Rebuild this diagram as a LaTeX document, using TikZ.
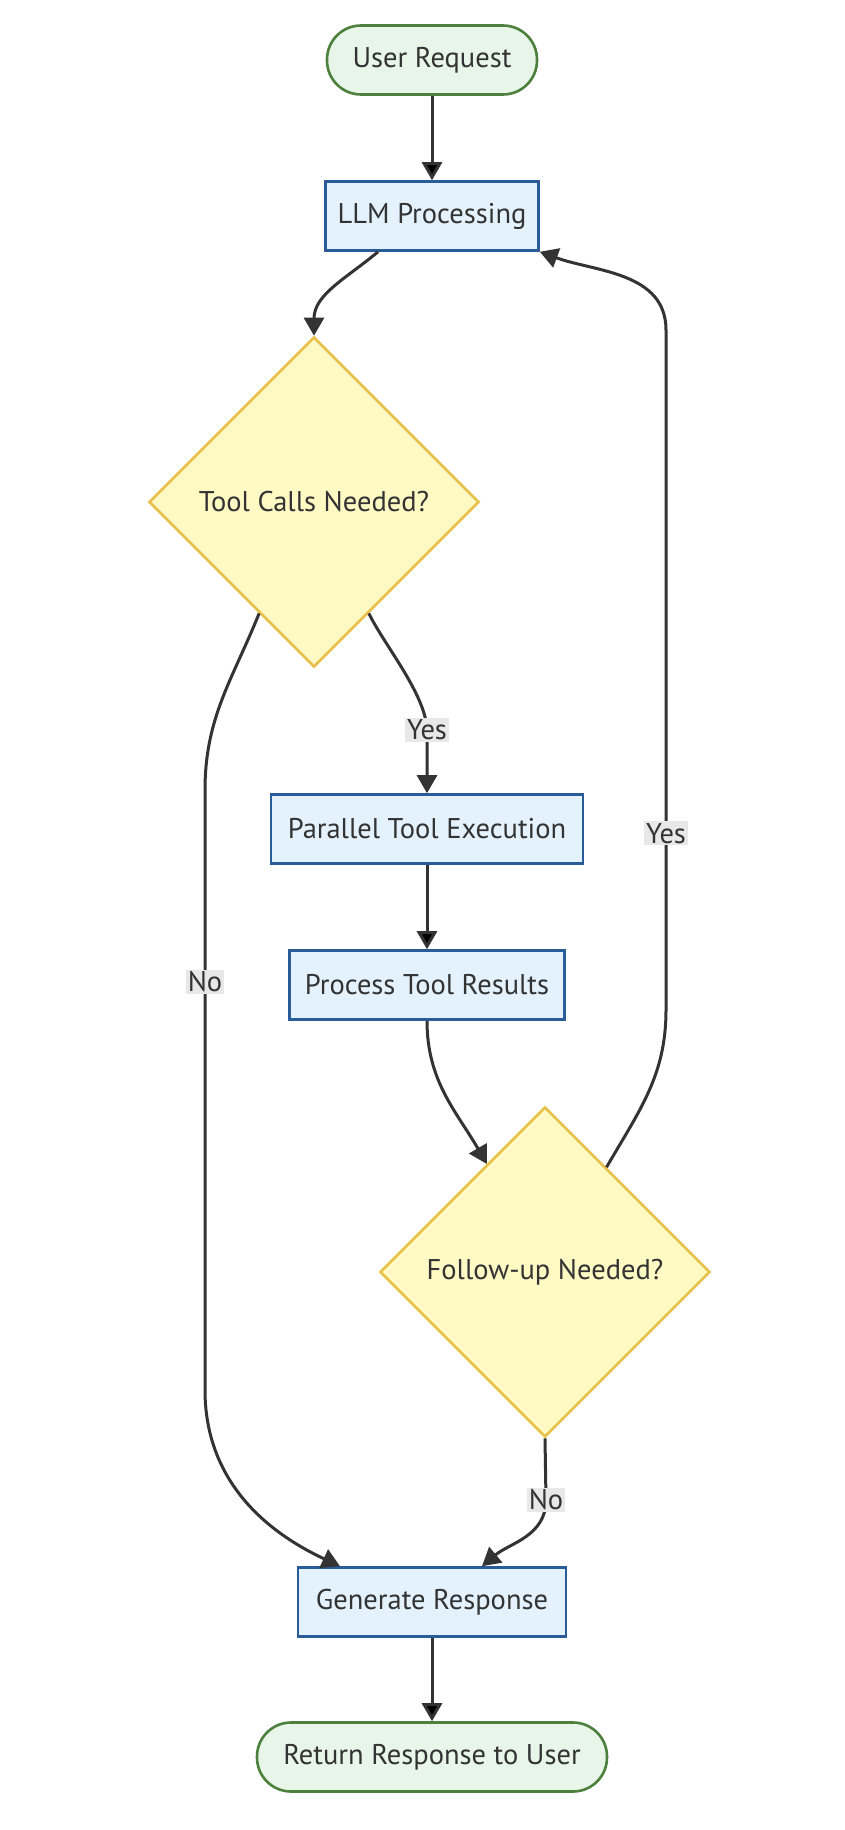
\documentclass[tikz,border=0pt]{standalone}
\usepackage{fontspec}
\setmainfont{PT Sans}
\usepackage{tikz}
\usetikzlibrary{positioning,shapes.geometric,arrows.meta,calc}

\definecolor{vihrea}{RGB}{76,128,60}
\definecolor{vihreapohja}{HTML}{E8F5E9}
\definecolor{sininen}{RGB}{42,92,154}
\definecolor{sininenpohja}{HTML}{E3F2FD}
\definecolor{keltainen}{HTML}{E8C04A}
\definecolor{keltainenpohja}{HTML}{FFF9C4}
\definecolor{viiva}{HTML}{333333}
\definecolor{selitepohja}{HTML}{E8E8E8}

\begin{document}
\begin{tikzpicture} [x=1pt, y=-1pt, node distance=156pt,
                    every node/.style={font=\fontsize{28.5}{32}\selectfont, text=viiva},
                    paate/.style={rectangle, rounded corners=34pt, draw=vihrea, fill=vihreapohja, line width=2.6pt, minimum height=69pt},
                    vaihe/.style={rectangle, draw=sininen, fill=sininenpohja, line width=2.6pt, minimum height=69pt},
                    ehto/.style={diamond, aspect=1, draw=keltainen, fill=keltainenpohja, line width=2.6pt, minimum width=330pt, minimum height=330pt, inner sep=0pt},
                    selite/.style={fill=selitepohja, inner sep=2pt, anchor=center},
                    nuoli/.style={draw=viiva, line width=3pt, -{Triangle[length=18pt,width=20pt]}}]

\useasboundingbox (0,0) rectangle (844,1830);

\node[paate, minimum width=210pt] (1) at (432,60) {User Request};
\node[vaihe, minimum width=213pt] (2) [below of=1] {LLM Processing};
\node[ehto] (3) [below of=2, node distance=286pt, xshift=-118pt] {Tool Calls Needed?};
\node[vaihe, minimum width=312pt] (4) [below of=3, node distance=327pt, xshift=113pt] {Parallel Tool Execution};
\node[vaihe, minimum width=275pt] (5) [below of=4] {Process Tool Results};
\node[ehto] (6) [below of=5, node distance=287pt, xshift=118pt] {Follow-up Needed?};
\node[vaihe, minimum width=268pt] (7) [below of=6, node distance=330pt, xshift=-113pt] {Generate Response};
\node[paate, minimum width=350pt] (8) [below of=7, node distance=155pt] {Return Response to User};

% bends of the long connectors
\coordinate (kylla1) at (427,730);
\coordinate (ei1) at (205,790);
\coordinate (ei2) at (205,1390);
\coordinate (kylla2) at (666,1010);
\coordinate (kylla3) at (666,330);
\coordinate (ei3) at (546,1500);

 \path[nuoli]
    (1) edge (2)
    (4) edge (5)
    (7) edge (8);

 \draw[nuoli] ([xshift=-54pt]2.south) to[out=220,in=90] (3.north);
 \draw[nuoli] ($(3.east)!0.67!(3.south)$) to[out=-64,in=92,looseness=0.7] (kylla1) node[selite] {Yes} -- (4.north);
 \draw[nuoli] ($(3.west)!0.67!(3.south)$) to[out=-112,in=90] (ei1) -- node[selite,pos=0.32] {No} (ei2) to[out=-90,in=155] ([xshift=-92pt]7.north);
 \draw[nuoli] (5.south) to[out=-90,in=120] ($(6.north)!0.35!(6.west)$);
 \draw[nuoli] ($(6.north)!0.37!(6.east)$) to[out=60,in=-90] (kylla2) -- node[selite,pos=0.26] {Yes} (kylla3) to[out=90,in=-20] (2.south east);
 \draw[nuoli] (6.south) -- (ei3) node[selite] {No} to[out=-90,in=40] ([xshift=50pt]7.north);
\end{tikzpicture}
\end{document}
